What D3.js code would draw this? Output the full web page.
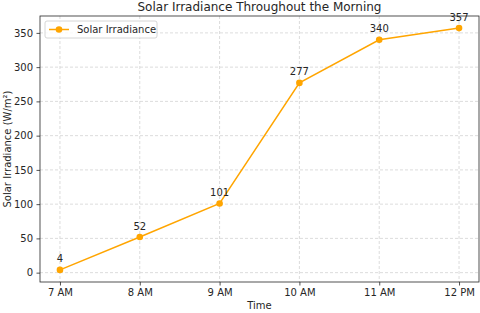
<!DOCTYPE html>
<html>
<head>
<meta charset="utf-8">
<script src="https://cdn.jsdelivr.net/npm/d3@7"></script>
<style>
  body { margin: 0; background: #fff; }
  text { font-family: "DejaVu Sans", sans-serif; fill: #262626; }
</style>
</head>
<body>
<div id="chart"></div>
<script>
var times = ["7 AM", "8 AM", "9 AM", "10 AM", "11 AM", "12 PM"];
var irradiance = [4, 52, 101, 277, 340, 357];
var yTicks = [0, 50, 100, 150, 200, 250, 300, 350];

var svgWidth = 480;
var svgHeight = 313;
var margin = { top: 16, right: 1, bottom: 31, left: 40 };
var width = svgWidth - margin.left - margin.right;
var height = svgHeight - margin.top - margin.bottom;

var svg = d3.select("#chart")
  .append("svg")
  .attr("width", svgWidth)
  .attr("height", svgHeight);

var chartGroup = svg.append("g")
  .attr("transform", `translate(${margin.left}, ${margin.top})`);

var xScale = d3.scaleLinear()
  .domain([-0.25, times.length - 1 + 0.25])
  .range([0, width]);

var yScale = d3.scaleLinear()
  .domain([-13.65, 374.65])
  .range([height, 0]);

// grid
chartGroup.append("g")
  .selectAll("line")
  .data(times)
  .enter()
  .append("line")
  .attr("x1", (d, i) => xScale(i))
  .attr("x2", (d, i) => xScale(i))
  .attr("y1", 0)
  .attr("y2", height)
  .attr("stroke", "#d3d3d3")
  .attr("stroke-width", 0.8)
  .attr("stroke-dasharray", "3,2");

chartGroup.append("g")
  .selectAll("line")
  .data(yTicks)
  .enter()
  .append("line")
  .attr("x1", 0)
  .attr("x2", width)
  .attr("y1", d => yScale(d))
  .attr("y2", d => yScale(d))
  .attr("stroke", "#d3d3d3")
  .attr("stroke-width", 0.8)
  .attr("stroke-dasharray", "3,2");

var bottomAxis = d3.axisBottom(xScale)
  .tickValues(d3.range(times.length))
  .tickFormat(i => times[i])
  .tickSize(3.5)
  .tickPadding(3.5);

var leftAxis = d3.axisLeft(yScale)
  .tickValues(yTicks)
  .tickSize(3.5)
  .tickPadding(3.5);

var xAxisG = chartGroup.append("g")
  .attr("transform", `translate(0, ${height})`)
  .call(bottomAxis);

var yAxisG = chartGroup.append("g")
  .call(leftAxis);

[xAxisG, yAxisG].forEach(function(g) {
  g.select(".domain").remove();
  g.selectAll("line").attr("stroke", "#262626").attr("stroke-width", 0.8);
  g.selectAll("text").attr("font-size", "10px").attr("font-family", "DejaVu Sans, sans-serif").attr("fill", "#262626");
});

// frame
chartGroup.append("rect")
  .attr("x", 0)
  .attr("y", 0)
  .attr("width", width)
  .attr("height", height)
  .attr("fill", "none")
  .attr("stroke", "#262626")
  .attr("stroke-width", 0.8);

var line = d3.line()
  .x((d, i) => xScale(i))
  .y(d => yScale(d));

chartGroup.append("path")
  .datum(irradiance)
  .attr("d", line)
  .attr("fill", "none")
  .attr("stroke", "#ffa500")
  .attr("stroke-width", 1.5);

chartGroup.selectAll("circle.pt")
  .data(irradiance)
  .enter()
  .append("circle")
  .attr("class", "pt")
  .attr("cx", (d, i) => xScale(i))
  .attr("cy", d => yScale(d))
  .attr("r", 3.3)
  .attr("fill", "#ffa500");

chartGroup.selectAll("text.lbl")
  .data(irradiance)
  .enter()
  .append("text")
  .attr("class", "lbl")
  .attr("x", (d, i) => xScale(i))
  .attr("y", d => yScale(d) - 7.5)
  .attr("text-anchor", "middle")
  .attr("font-size", "10px")
  .text(d => d);

// title
svg.append("text")
  .attr("x", margin.left + width / 2)
  .attr("y", 11)
  .attr("text-anchor", "middle")
  .attr("font-size", "12px")
  .text("Solar Irradiance Throughout the Morning");

// axis labels
svg.append("text")
  .attr("x", margin.left + width / 2)
  .attr("y", 309)
  .attr("text-anchor", "middle")
  .attr("font-size", "10px")
  .text("Time");

svg.append("text")
  .attr("transform", `translate(11, ${margin.top + height / 2}) rotate(-90)`)
  .attr("text-anchor", "middle")
  .attr("font-size", "10px")
  .text("Solar Irradiance (W/m²)");

// legend
var legend = chartGroup.append("g")
  .attr("transform", "translate(5, 5)");

legend.append("rect")
  .attr("width", 112)
  .attr("height", 17)
  .attr("rx", 2)
  .attr("fill", "#fff")
  .attr("fill-opacity", 0.8)
  .attr("stroke", "#cccccc")
  .attr("stroke-width", 0.8);

legend.append("line")
  .attr("x1", 4)
  .attr("x2", 24)
  .attr("y1", 8.5)
  .attr("y2", 8.5)
  .attr("stroke", "#ffa500")
  .attr("stroke-width", 1.5);

legend.append("circle")
  .attr("cx", 14)
  .attr("cy", 8.5)
  .attr("r", 3.3)
  .attr("fill", "#ffa500");

legend.append("text")
  .attr("x", 32)
  .attr("y", 12)
  .attr("font-size", "10px")
  .text("Solar Irradiance");
</script>
</body>
</html>
